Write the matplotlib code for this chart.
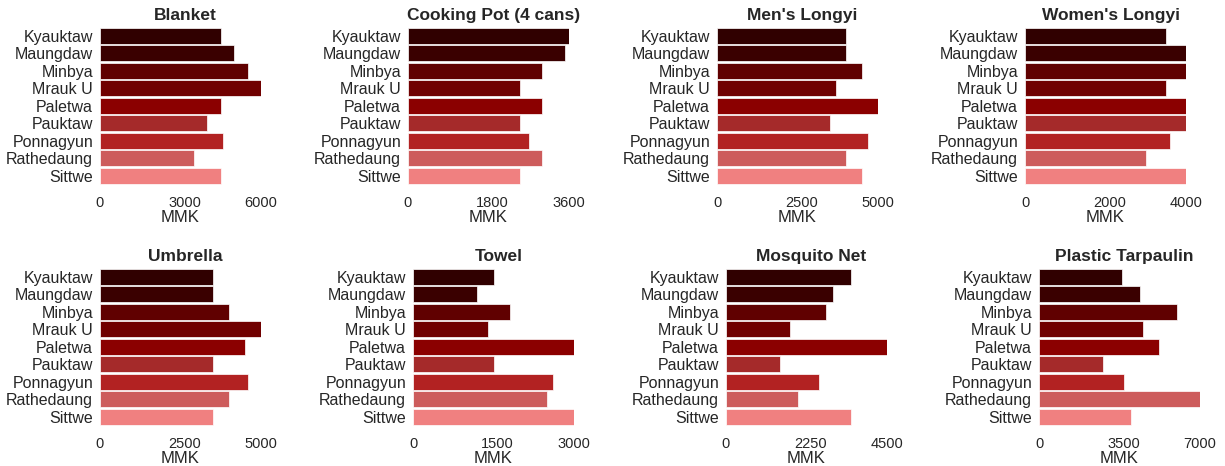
import matplotlib
matplotlib.use("Agg")
import matplotlib.pyplot as plt
from matplotlib.transforms import ScaledTranslation

townships = ["Kyauktaw", "Maungdaw", "Minbya", "Mrauk U", "Paletwa",
             "Pauktaw", "Ponnagyun", "Rathedaung", "Sittwe"]
colors = ["#300000", "#3a0000", "#600000", "#700000", "#8b0000",
          "#a52a2a", "#b22222", "#cd5c5c", "#f08080"]

items = ["Blanket", "Cooking Pot (4 cans)", "Men's Longyi", "Women's Longyi",
         "Umbrella", "Towel", "Mosquito Net", "Plastic Tarpaulin"]

blanket = [4500, 5000, 5500, 6000, 4500, 4000, 4600, 3500, 4500]
cooking_pot = [3600, 3500, 3000, 2500, 3000, 2500, 2700, 3000, 2500]
mens_longyi = [4000, 4000, 4500, 3700, 5000, 3500, 4700, 4000, 4500]
womens_longyi = [3500, 4000, 4000, 3500, 4000, 4000, 3600, 3000, 4000]
umbrella = [3500, 3500, 4000, 5000, 4500, 3500, 4600, 4000, 3500]
towel = [1500, 1200, 1800, 1400, 3000, 1500, 2600, 2500, 3000]
mosquito_net = [3500, 3000, 2800, 1800, 4500, 1500, 2600, 2000, 3500]
tarpaulin = [3600, 4400, 6000, 4500, 5200, 2800, 3700, 7000, 4000]

series = [blanket, cooking_pot, mens_longyi, womens_longyi,
          umbrella, towel, mosquito_net, tarpaulin]

plt.rcParams["font.family"] = ["Liberation Sans", "DejaVu Sans"]
text_color = "#262626"

W, H = 1225, 466
fig = plt.figure(figsize=(W / 100, H / 100), dpi=100)

# axes boxes in pixels: left, top, width, height
lefts = [100, 408, 717, 1025, 100, 413, 726, 1039]
tops = [27, 27, 27, 27, 268, 268, 268, 268]
aw, ah = 161, 157.5

# the reference draws titles and middle ticks a few pixels right of centre
shift = ScaledTranslation(5 / 100, 0, fig.dpi_scale_trans)

for i, (name, vals) in enumerate(zip(items, series)):
    ax = fig.add_axes([lefts[i] / W, 1 - (tops[i] + ah) / H, aw / W, ah / H])
    ypos = list(range(len(townships)))
    ax.barh(ypos, vals, height=0.9, color=colors, edgecolor="white", linewidth=0.5)
    vmax = max(vals)
    ax.set_xlim(0, vmax)
    ax.set_ylim(len(townships) - 0.5, -0.5)
    ax.set_xticks([0, vmax / 2, vmax])
    ax.set_xticklabels([str(int(v)) for v in [0, vmax / 2, vmax]])
    ax.set_yticks(ypos)
    ax.set_yticklabels(townships)
    ax.tick_params(axis="y", length=0, pad=5, labelsize=11.5, labelcolor=text_color)
    ax.tick_params(axis="x", length=0, pad=8, labelsize=10.5, labelcolor=text_color)
    for s in ax.spines.values():
        s.set_visible(False)
    ax.set_xlabel("MMK", fontsize=12, color=text_color, labelpad=0)
    t = ax.set_title(name, fontsize=12.5, fontweight="bold", color=text_color, pad=5)
    t.set_transform(t.get_transform() + shift)
    mid = ax.get_xticklabels()[1]
    mid.set_transform(mid.get_transform() + ScaledTranslation(4 / 100, 0, fig.dpi_scale_trans))

fig.savefig("out.png", dpi=100, facecolor="white")
